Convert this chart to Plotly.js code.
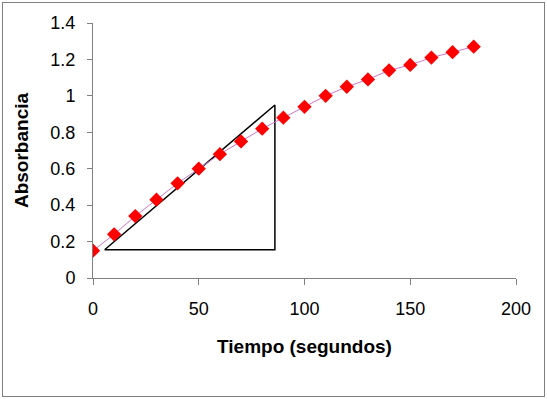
<!DOCTYPE html>
<html>
<head>
<meta charset="utf-8">
<script src="https://cdn.plot.ly/plotly-3.0.1.min.js"></script>
<style>
html,body{margin:0;padding:0;background:#fff;}
#wrap{position:relative;width:547px;height:399px;}
#chart{width:547px;height:399px;}
#frame{position:absolute;left:2px;top:2px;width:541px;height:393px;border:1px solid #808080;pointer-events:none;}
</style>
</head>
<body>
<div id="wrap"><div id="chart"></div><div id="frame"></div></div>
<script>
// Data
const tiempo = [0,10,20,30,40,50,60,70,80,90,100,110,120,130,140,150,160,170,180];
const absorbancia = [0.15,0.24,0.34,0.43,0.52,0.60,0.68,0.75,0.82,0.88,0.94,1.00,1.05,1.09,1.14,1.17,1.21,1.24,1.27];
// Slope triangle vertices
const triX = [5.5,86,86,5.5];
const triY = [0.155,0.95,0.155,0.155];
const xTicks = [0,50,100,150,200];
const yTicks = [0,0.2,0.4,0.6,0.8,1,1.2,1.4];
const yTickText = ['0','0.2','0.4','0.6','0.8','1','1.2','1.4'];

const traces = [
  {x: triX, y: triY, mode: 'lines', line: {color: '#000000', width: 1.5}, hoverinfo: 'skip', showlegend: false},
  {x: tiempo, y: absorbancia, mode: 'lines+markers',
   line: {color: '#cc77cc', width: 1},
   marker: {symbol: 'diamond', size: 11, color: '#ff0000'},
   showlegend: false}
];

const font = {family: 'Liberation Sans, Arial, sans-serif', color: '#000'};
const layout = {
  width: 547, height: 399,
  margin: {l: 93, r: 31, t: 23, b: 121},
  paper_bgcolor: '#ffffff', plot_bgcolor: '#ffffff',
  font: font,
  showlegend: false,
  xaxis: {
    range: [0, 200], tickvals: xTicks, ticks: 'outside', ticklen: 6, tickcolor: '#808080',
    ticklabelstandoff: 8,
    showline: true, linecolor: '#808080', linewidth: 1, showgrid: false, zeroline: false,
    tickfont: {family: font.family, size: 18, color: '#000'},
    title: {text: '<b>Tiempo (segundos)</b>', font: {family: font.family, size: 19, color: '#000'}, standoff: 22},
    automargin: false
  },
  yaxis: {
    range: [0, 1.4], tickvals: yTicks, ticktext: yTickText, ticks: 'outside', ticklen: 5, tickcolor: '#808080',
    ticklabelstandoff: 8,
    showline: true, linecolor: '#808080', linewidth: 1, showgrid: false, zeroline: false,
    tickfont: {family: font.family, size: 18, color: '#000'},
    title: {text: '<b>Absorbancia</b>', font: {family: font.family, size: 19, color: '#000'}, standoff: 16},
    automargin: false
  }
};
Plotly.newPlot('chart', traces, layout, {displayModeBar: false, staticPlot: true});
</script>
</body>
</html>
